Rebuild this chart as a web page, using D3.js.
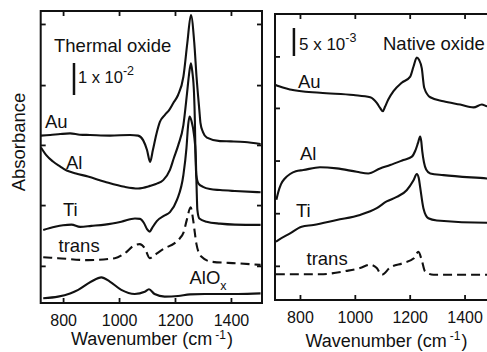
<!DOCTYPE html>
<html>
<head>
<meta charset="utf-8">
<script src="https://cdn.jsdelivr.net/npm/d3@7"></script>
<style>
  body { margin: 0; background: #fff; }
  svg { display: block; }
  text { font-family: "Liberation Sans", Arial, sans-serif; fill: #111; }
</style>
</head>
<body>
<div id="chart"></div>
<script>
// spectra, [wavenumber (cm-1), absorbance x 1e-3 incl. offset]
var thermalAu = [[721,52.3],[754,52.5],[790,52.8],[825,53.0],[860,52.6],[896,52.5],[968,52.3],[1039,52.5],[1068,52.3],[1086,50.9],[1100,47.8],[1111,44.1],[1121,47.8],[1133,52.6],[1146,56.6],[1164,58.8],[1179,60.3],[1194,62.5],[1211,65.0],[1230,70.7],[1244,81.2],[1257,90.0],[1269,81.2],[1277,70.7],[1287,60.3],[1291,56.3],[1300,53.4],[1314,51.7],[1361,50.6],[1400,50.5],[1449,50.3],[1506,49.7]]
var thermalAl = [[721,48.6],[739,46.3],[764,44.2],[789,42.7],[813,41.4],[846,40.5],[889,39.5],[949,37.9],[1020,36.3],[1068,35.8],[1111,36.6],[1132,37.2],[1158,38.4],[1182,41.6],[1196,45.3],[1212,49.4],[1230,55.6],[1243,65.5],[1250,71.3],[1257,74.9],[1262,72.2],[1268,65.6],[1271,57.2],[1273,47.8],[1276,40.0],[1284,37.3],[1300,36.3],[1325,35.6],[1361,35.3],[1414,35.0],[1506,34.6]]
var thermalTi = [[729,22.8],[771,23.8],[800,24.3],[830,24.5],[861,23.8],[901,24.1],[950,24.5],[1008,25.4],[1057,26.4],[1075,26.3],[1089,25.0],[1100,23.1],[1110,22.3],[1118,23.4],[1135,25.6],[1160,27.2],[1182,28.4],[1207,32.2],[1230,40.0],[1241,48.4],[1247,55.6],[1252,58.3],[1259,56.9],[1268,52.5],[1274,46.3],[1277,36.9],[1280,29.1],[1287,26.4],[1313,25.4],[1361,24.8],[1414,24.5],[1506,24.4]]
var thermalTrans = [[729,14.3],[782,14.0],[889,13.4],[985,14.0],[1020,15.5],[1056,18.1],[1074,18.4],[1092,17.1],[1110,14.0],[1127,15.0],[1163,17.1],[1199,18.7],[1218,20.3],[1230,21.9],[1242,25.9],[1256,29.9],[1265,25.9],[1271,21.9],[1276,18.7],[1294,14.5],[1330,12.9],[1425,12.4],[1506,11.9]]
var thermalAlOx = [[729,1.5],[782,2.0],[825,3.0],[854,4.1],[901,6.7],[937,8.0],[967,6.7],[1008,4.1],[1056,2.8],[1092,3.5],[1107,4.3],[1127,2.8],[1163,2.0],[1211,2.2],[1254,2.7],[1306,2.8],[1425,2.8],[1506,3.0]]

var nativeAu = [[712,38.4],[721,38.2],[764,37.6],[873,37.0],[995,36.6],[1056,36.2],[1080,35.2],[1092,34.3],[1102,33.7],[1110,34.5],[1122,35.8],[1141,37.3],[1171,38.8],[1202,39.9],[1214,41.7],[1226,43.3],[1234,42.9],[1244,41.4],[1253,37.9],[1275,36.2],[1323,35.5],[1384,34.9],[1433,34.4],[1463,34.9],[1483,34.6],[1506,34.6]]
var nativeAl = [[714,17.9],[721,19.3],[731,20.7],[745,21.7],[764,22.5],[785,23.0],[812,23.2],[873,23.7],[934,23.5],[1007,22.9],[1049,22.6],[1092,23.5],[1129,24.1],[1177,25.0],[1208,25.6],[1220,26.6],[1230,28.0],[1238,29.2],[1242,28.4],[1246,26.5],[1252,24.6],[1260,23.3],[1275,22.6],[1323,22.3],[1481,21.7],[1506,21.6]]
var nativeTi = [[712,10.4],[721,10.7],[764,11.9],[806,13.1],[849,13.4],[934,14.3],[1019,15.2],[1080,16.4],[1116,17.6],[1153,18.4],[1189,19.6],[1214,21.4],[1226,22.5],[1233,21.8],[1238,20.2],[1250,16.4],[1268,14.6],[1299,14.2],[1481,13.8],[1506,13.8]]
var nativeTrans = [[712,4.6],[764,4.6],[873,4.6],[970,5.2],[1019,5.7],[1056,6.3],[1080,5.7],[1098,4.5],[1129,5.8],[1177,6.6],[1214,7.4],[1232,8.6],[1244,7.1],[1256,5.1],[1287,4.5],[1481,4.5],[1506,4.5]]

var xTicks = [800, 1000, 1200, 1400]
var thermalYTicks = [11.6, 30.6, 49.4, 68.1, 87.2]
var nativeYTicks = [6.1, 15.5, 24.9, 34.3, 43.5]

var width = 487, height = 352

var svg = d3.select("#chart").append("svg")
  .attr("width", width)
  .attr("height", height)

function drawPanel(p) {
  var x = d3.scaleLinear().domain(p.xDomain).range([p.left, p.right])
  var y = d3.scaleLinear().domain(p.yDomain).range([p.bottom, p.top])
  var g = svg.append("g")

  // ticks point inward on all four sides
  var bottom = g.append("g").attr("transform", "translate(0," + p.bottom + ")")
    .call(d3.axisBottom(x).tickValues(xTicks).tickSizeInner(-5).tickSizeOuter(0).tickFormat(d3.format("d")))
  bottom.selectAll("text").attr("y", p.labelOffset).attr("dy", null)
    .style("font-size", "16px").style("font-family", "Liberation Sans, Arial")
  g.append("g").attr("transform", "translate(0," + p.top + ")")
    .call(d3.axisTop(x).tickValues(xTicks).tickSizeInner(-5).tickSizeOuter(0).tickFormat(""))
  g.append("g").attr("transform", "translate(" + p.left + ",0)")
    .call(d3.axisLeft(y).tickValues(p.yTicks).tickSizeInner(-5).tickSizeOuter(0).tickFormat(""))
  g.append("g").attr("transform", "translate(" + p.right + ",0)")
    .call(d3.axisRight(y).tickValues(p.yTicks).tickSizeInner(-5).tickSizeOuter(0).tickFormat(""))
  g.selectAll(".tick line").attr("stroke", "#111").attr("stroke-width", 1.8)
  g.selectAll(".domain").remove()

  g.append("rect")
    .attr("x", p.left).attr("y", p.top)
    .attr("width", p.right - p.left).attr("height", p.bottom - p.top)
    .attr("fill", "none").attr("stroke", "#111").attr("stroke-width", 2)

  var line = d3.line()
    .x(function(d) { return x(d[0]) })
    .y(function(d) { return y(d[1]) })
    .curve(d3.curveMonotoneX)

  p.series.forEach(function(s) {
    g.append("path")
      .datum(s.data)
      .attr("d", line)
      .attr("fill", "none")
      .attr("stroke", "#111")
      .attr("stroke-width", 2.1)
      .attr("stroke-linejoin", "round")
      .attr("stroke-dasharray", s.dashed ? "9,5" : null)
  })

  // scale bar
  g.append("line")
    .attr("x1", x(p.bar.x)).attr("x2", x(p.bar.x))
    .attr("y1", y(p.bar.from)).attr("y2", y(p.bar.from + p.bar.size))
    .attr("stroke", "#111").attr("stroke-width", 2.5)

  return g
}

var left = drawPanel({
  left: 40.7, right: 262, top: 11, bottom: 303,
  xDomain: [720, 1511], yDomain: [0, 91.25], yTicks: thermalYTicks, labelOffset: 22.5,
  bar: { x: 839, from: 65, size: 10 },
  series: [
    { data: thermalAu }, { data: thermalAl }, { data: thermalTi },
    { data: thermalTrans, dashed: true }, { data: thermalAlOx }
  ]
})

var right = drawPanel({
  left: 275, right: 495, top: 14, bottom: 300,
  xDomain: [709, 1511], yDomain: [0, 51.07], yTicks: nativeYTicks, labelOffset: 22.5,
  bar: { x: 778, from: 43.57, size: 5 },
  series: [
    { data: nativeAu }, { data: nativeAl }, { data: nativeTi },
    { data: nativeTrans, dashed: true }
  ]
})

// text labels
function label(x, y, s, size) {
  return svg.append("text").attr("x", x).attr("y", y)
    .style("font-size", (size || 18.5) + "px").text(s)
}

label(54, 52, "Thermal oxide")
var t1 = label(78, 83, "1 x 10", 16.5)
t1.append("tspan").attr("dy", -8).style("font-size", "12.5px").text("-2")

var t2 = label(299, 50, "5 x 10", 17)
t2.append("tspan").attr("dy", -8).style("font-size", "12.5px").text("-3")
label(383, 50, "Native oxide")

label(45, 128, "Au")
label(66, 168.5, "Al")
label(63, 215.5, "Ti")
label(58.5, 251.5, "trans")
var alox = label(189.5, 283.5, "AlO")
alox.append("tspan").attr("dy", 6).style("font-size", "12.5px").text("x")

label(298, 88, "Au")
label(300, 160, "Al")
label(296, 216.5, "Ti")
label(306.5, 265, "trans")

// axis titles
function xTitle(cx, base, supDy) {
  var t = svg.append("text").attr("x", cx).attr("y", base)
    .attr("text-anchor", "middle").style("font-size", "18px")
  t.append("tspan").text("Wavenumber (cm")
  t.append("tspan").attr("dx", 3).attr("dy", supDy).style("font-size", "12px").text("-1")
  t.append("tspan").attr("dx", 1).attr("dy", -supDy).text(")")
}
xTitle(152, 345, -6)
xTitle(386.5, 347, -7)

svg.append("text")
  .attr("transform", "translate(25,142) rotate(-90)")
  .attr("text-anchor", "middle")
  .style("font-size", "18.5px")
  .text("Absorbance")
</script>
</body>
</html>
